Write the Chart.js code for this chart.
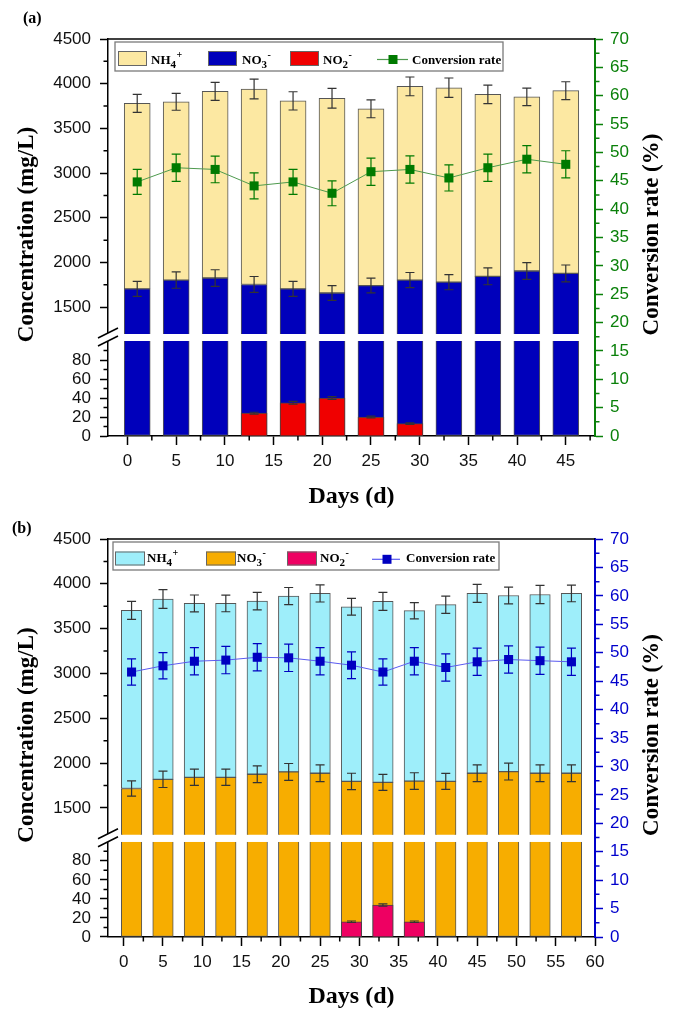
<!DOCTYPE html>
<html>
<head>
<meta charset="utf-8">
<script src="https://cdn.jsdelivr.net/npm/chart.js@4.4.1/dist/chart.umd.min.js"></script>
<style>
  html, body { margin: 0; padding: 0; background: #fff; }
  #wrap { position: relative; width: 675px; height: 1013px; overflow: hidden; }
  canvas { position: absolute; left: 0; }
  #chartA { top: 0; }
  #chartB { top: 516px; }
</style>
</head>
<body>
<div id="wrap">
  <canvas id="chartA" width="675" height="516"></canvas>
  <canvas id="chartB" width="675" height="497"></canvas>
</div>
<script>
// ---------- Panel (a) ----------
const daysA = [1, 5, 9, 13, 17, 21, 25, 29, 33, 37, 41, 45];
const totalA = [3780, 3797, 3914, 3941, 3808, 3837, 3719, 3970, 3955, 3881, 3852, 3922];   // NH4+ + NO3-
const totalErrA = [100, 94, 100, 111, 102, 111, 100, 105, 109, 104, 98, 100];
const nitrateA = [1705, 1803, 1826, 1754, 1705, 1659, 1742, 1803, 1780, 1845, 1905, 1878];
const nitrateErrA = [83, 91, 93, 89, 83, 83, 82, 85, 85, 94, 94, 94];
const nitriteA = [0, 0, 0, 24, 35, 40, 20, 13, 0, 0, 0, 0];
const nitriteErrA = [0, 0, 0, 1, 1.5, 1.5, 1, 0.8, 0, 0, 0, 0];
const rateA = [44.8, 47.3, 47.0, 44.1, 44.8, 42.8, 46.6, 47.0, 45.5, 47.3, 48.8, 47.9];
const rateErrA = [2.2, 2.4, 2.35, 2.3, 2.2, 2.2, 2.4, 2.4, 2.3, 2.4, 2.4, 2.4];

// ---------- Panel (b) ----------
const daysB = [1, 5, 9, 13, 17, 21, 25, 29, 33, 37, 41, 45, 49, 53, 57];
const totalB = [3703, 3830, 3781, 3781, 3807, 3863, 3893, 3744, 3804, 3700, 3767, 3893, 3870, 3881, 3893];
const totalErrB = [100, 105, 94, 93, 98, 96, 96, 93, 100, 91, 96, 100, 94, 102, 93];
const nitrateB = [1716, 1818, 1841, 1841, 1875, 1901, 1886, 1795, 1784, 1799, 1795, 1886, 1905, 1886, 1886];
const nitrateErrB = [85, 91, 91, 91, 94, 94, 94, 91, 89, 93, 89, 94, 94, 94, 94];
const nitriteB = [0, 0, 0, 0, 0, 0, 0, 16, 33.5, 16, 0, 0, 0, 0, 0];
const nitriteErrB = [0, 0, 0, 0, 0, 0, 0, 0.8, 1.2, 0.8, 0, 0, 0, 0, 0];
const rateB = [46.6, 47.7, 48.5, 48.7, 49.2, 49.1, 48.5, 47.8, 46.6, 48.5, 47.4, 48.4, 48.8, 48.6, 48.4];
const rateErrB = [2.3, 2.3, 2.4, 2.4, 2.4, 2.4, 2.4, 2.35, 2.3, 2.4, 2.4, 2.4, 2.4, 2.4, 2.4];

// ---------- Tick values ----------
const upperTicks = [1500, 2000, 2500, 3000, 3500, 4000, 4500];
const lowerTicks = [0, 20, 40, 60, 80];
const rateTicks = [0, 5, 10, 15, 20, 25, 30, 35, 40, 45, 50, 55, 60, 65, 70];
const dayTicksA = [0, 5, 10, 15, 20, 25, 30, 35, 40, 45];
const dayTicksB = [0, 5, 10, 15, 20, 25, 30, 35, 40, 45, 50, 55, 60];

const UPPER_MIN = 1200, UPPER_MAX = 4500, LOWER_MAX = 100, RATE_MAX = 70;

const serif = "'Liberation Serif', 'Times New Roman', Times, serif";
const sans = "'Liberation Sans', Arial, Helvetica, sans-serif";
const tickFont = { family: sans, size: 17 };

function setTicks(values) {
  return scale => { scale.ticks = values.map(v => ({ value: v })); };
}

function minorValues(major, max) {
  const out = [];
  for (let i = 0; i < major.length - 1; i++) out.push((major[i] + major[i + 1]) / 2);
  const step = major[major.length - 1] - major[major.length - 2];
  const extra = major[major.length - 1] + step / 2;
  if (extra <= max) out.push(extra);
  return out;
}

// Error bars drawn right after their own dataset
const errorBarPlugin = {
  id: 'errorBars',
  afterDatasetDraw(chart, args) {
    const ds = chart.data.datasets[args.index];
    if (!ds.errTop || !ds.errSize) return;
    const yScale = chart.scales[ds.yAxisID];
    const ctx = chart.ctx;
    ctx.save();
    ctx.strokeStyle = ds.errColor;
    ctx.lineWidth = 1.2;
    args.meta.data.forEach((el, i) => {
      const e = ds.errSize[i];
      if (!e) return;
      const x = el.x;
      const hi = yScale.getPixelForValue(ds.errTop[i] + e);
      const lo = yScale.getPixelForValue(ds.errTop[i] - e);
      const c = 4.5;
      ctx.beginPath();
      ctx.moveTo(x, hi); ctx.lineTo(x, lo);
      ctx.moveTo(x - c, hi); ctx.lineTo(x + c, hi);
      ctx.moveTo(x - c, lo); ctx.lineTo(x + c, lo);
      ctx.stroke();
    });
    ctx.restore();
  }
};

function drawMinor(ctx, scale, values, side, color) {
  ctx.strokeStyle = color;
  ctx.lineWidth = 1.5;
  const len = 4.5;
  ctx.beginPath();
  values.forEach(v => {
    const p = scale.getPixelForValue(v);
    if (side === 'left') { ctx.moveTo(scale.right, p); ctx.lineTo(scale.right - len, p); }
    else if (side === 'right') { ctx.moveTo(scale.left, p); ctx.lineTo(scale.left + len, p); }
    else { ctx.moveTo(p, scale.top); ctx.lineTo(p, scale.top + len); }
  });
  ctx.stroke();
}

function drawRich(ctx, x, base, parts, color) {
  ctx.fillStyle = color;
  ctx.textAlign = 'left';
  ctx.textBaseline = 'alphabetic';
  for (const part of parts) {
    const size = part.sub ? 11 : part.sup ? 10 : 13;
    const dy = part.sub ? 4 : part.sup ? -6 : 0;
    ctx.font = `bold ${size}px ${serif}`;
    ctx.fillText(part.t, x, base + dy);
    x += ctx.measureText(part.t).width + (part.sup || part.sub ? 0.5 : 0);
  }
}

// Frame, minor ticks, axis break, side titles, panel tag and legend
const decorPlugin = {
  id: 'panelDecor',
  afterDraw(chart, args, o) {
    const { ctx, chartArea: a, scales } = chart;
    ctx.save();

    // top frame line
    ctx.strokeStyle = '#000';
    ctx.lineWidth = 1.5;
    ctx.beginPath(); ctx.moveTo(a.left, a.top); ctx.lineTo(a.right, a.top); ctx.stroke();

    // minor ticks
    drawMinor(ctx, scales.yTop, minorValues(upperTicks, UPPER_MAX), 'left', '#000');
    drawMinor(ctx, scales.yBot, minorValues(lowerTicks, LOWER_MAX), 'left', '#000');
    drawMinor(ctx, scales.y2, minorValues(rateTicks, RATE_MAX), 'right', o.axisColor);
    drawMinor(ctx, scales.x, minorValues(o.dayTicks, o.xMax), 'bottom', '#000');

    // axis break "//"
    const gap = scales.yGap;
    const ax = a.left;
    const t = gap.top, b = gap.bottom;
    ctx.fillStyle = '#fff';
    ctx.beginPath();
    ctx.moveTo(ax - 10, t + 4); ctx.lineTo(ax + 10, t - 6);
    ctx.lineTo(ax + 10, b - 5); ctx.lineTo(ax - 10, b + 5);
    ctx.closePath(); ctx.fill();
    ctx.strokeStyle = '#000';
    ctx.lineWidth = 1.5;
    ctx.beginPath();
    ctx.moveTo(ax - 10, t + 4); ctx.lineTo(ax + 10, t - 6);
    ctx.moveTo(ax - 10, b + 5); ctx.lineTo(ax + 10, b - 5);
    ctx.stroke();

    // vertical titles
    const midY = (a.top + a.bottom) / 2 - 3;
    ctx.fillStyle = '#000';
    ctx.font = `bold 23px ${serif}`;
    ctx.textAlign = 'center';
    ctx.textBaseline = 'middle';
    ctx.save(); ctx.translate(27, midY); ctx.rotate(-Math.PI / 2);
    ctx.fillText('Concentration (mg/L)', 0, 0); ctx.restore();
    ctx.save(); ctx.translate(652, midY); ctx.rotate(-Math.PI / 2);
    ctx.fillText('Conversion rate (%)', 0, 0); ctx.restore();

    // panel tag
    ctx.font = `bold 16px ${serif}`;
    ctx.textAlign = 'left';
    ctx.fillText(o.tag, o.tagX, o.tagY);

    // legend
    const L = o.legend;
    const ds = chart.data.datasets;
    ctx.fillStyle = '#fff';
    ctx.fillRect(L.box[0], L.box[1], L.box[2], L.box[3]);
    ctx.strokeStyle = '#7a7a7a';
    ctx.lineWidth = 1.3;
    ctx.strokeRect(L.box[0], L.box[1], L.box[2], L.box[3]);

    const swatchItems = [
      { ds: ds[4], parts: [{ t: 'NH' }, { t: '4', sub: true }, { t: '+', sup: true }] },
      { ds: ds[2], parts: [{ t: 'NO' }, { t: '3', sub: true }, { t: '-', sup: true }] },
      { ds: ds[1], parts: [{ t: 'NO' }, { t: '2', sub: true }, { t: '-', sup: true }] }
    ];
    swatchItems.forEach((it, i) => {
      ctx.fillStyle = it.ds.backgroundColor;
      ctx.fillRect(L.sw[i], L.swTop, L.swW, L.swH);
      ctx.strokeStyle = '#666';
      ctx.lineWidth = 1;
      ctx.strokeRect(L.sw[i] + 0.5, L.swTop + 0.5, L.swW - 1, L.swH - 1);
      drawRich(ctx, L.tx[i], L.base, it.parts, '#000');
    });
    const rateDs = ds[0];
    ctx.strokeStyle = rateDs.borderColor;
    ctx.lineWidth = 1.2;
    ctx.beginPath(); ctx.moveTo(L.line[0], L.lineY); ctx.lineTo(L.line[1], L.lineY); ctx.stroke();
    ctx.fillStyle = rateDs.pointBackgroundColor;
    ctx.fillRect(L.mark - 4.5, L.lineY - 4.5, 9, 9);
    drawRich(ctx, L.rateTx, L.base, [{ t: 'Conversion rate' }], '#000');

    ctx.restore();
  }
};

function makeChart(canvasId, p) {
  const c = p.colors;
  const barCommon = {
    type: 'bar', grouped: false, barPercentage: 1, categoryPercentage: 1,
    maxBarThickness: p.barWidth, borderColor: '#555', borderWidth: 1
  };
  const datasets = [
    {
      type: 'line', label: 'Conversion rate', yAxisID: 'y2', data: p.rate, order: 0,
      borderColor: c.rateLine, borderWidth: 1, pointStyle: 'rect', pointRadius: 6.4,
      pointBackgroundColor: c.rate, pointBorderColor: c.rate, pointBorderWidth: 0,
      fill: false, tension: 0,
      errTop: p.rate, errSize: p.rateErr, errColor: c.rate
    },
    Object.assign({}, barCommon, {
      label: 'NO\u2082\u207B', yAxisID: 'yBot', data: p.nitrite, order: 1,
      backgroundColor: c.no2, borderColor: '#444',
      errTop: p.nitrite, errSize: p.nitriteErr, errColor: '#333'
    }),
    Object.assign({}, barCommon, {
      label: 'NO\u2083\u207B', yAxisID: 'yTop', data: p.nitrate, order: 2,
      backgroundColor: c.no3, borderSkipped: 'bottom',
      errTop: p.nitrate, errSize: p.nitrateErr, errColor: '#333'
    }),
    Object.assign({}, barCommon, {
      label: 'NO\u2083\u207B low', yAxisID: 'yBot',
      data: p.nitrate.map(v => [0, Math.min(v, LOWER_MAX)]), order: 3,
      backgroundColor: c.no3, borderSkipped: 'top'
    }),
    Object.assign({}, barCommon, {
      label: 'NH\u2084\u207A', yAxisID: 'yTop',
      data: p.nitrate.map((v, i) => [v, p.total[i]]), order: 4,
      backgroundColor: c.nh4, borderSkipped: false,
      errTop: p.total, errSize: p.totalErr, errColor: '#333'
    })
  ];

  const leftAxis = (extra) => Object.assign({
    type: 'linear', position: 'left', stack: 'conc', offset: false,
    afterFit: s => { s.width = 108; },
    grid: { drawOnChartArea: false, drawTicks: true, tickLength: 8, tickColor: '#000', tickWidth: 1.5 },
    border: { color: '#000', width: 1.5 },
    ticks: { font: tickFont, color: '#111', padding: 9, autoSkip: false, callback: v => String(v) }
  }, extra);

  return new Chart(document.getElementById(canvasId), {
    type: 'bar',
    data: { labels: p.days, datasets },
    plugins: [errorBarPlugin, decorPlugin],
    options: {
      responsive: false,
      devicePixelRatio: 1,
      animation: false,
      events: [],
      layout: { padding: { top: p.padTop, left: 0, right: 0, bottom: 0 } },
      plugins: {
        legend: { display: false },
        tooltip: { enabled: false },
        panelDecor: {
          tag: p.tag, tagX: p.tagX, tagY: p.tagY, axisColor: c.axis,
          dayTicks: p.dayTicks, xMax: p.xMax, legend: p.legend
        }
      },
      scales: {
        x: {
          type: 'linear', position: 'bottom', min: -2, max: p.xMax, offset: false,
          afterBuildTicks: setTicks(p.dayTicks),
          afterFit: s => { s.height = p.xHeight; },
          grid: { offset: false, drawOnChartArea: false, drawTicks: true, tickLength: 9, tickColor: '#000', tickWidth: 1.5 },
          border: { color: '#000', width: 1.5 },
          ticks: { font: tickFont, color: '#111', padding: 6, maxRotation: 0, autoSkip: false, callback: v => String(v) },
          title: {
            display: true, text: 'Days (d)', color: '#000',
            font: { family: serif, size: 24, weight: 'bold' },
            padding: { top: 0, bottom: p.xTitlePad }
          }
        },
        y: { display: false },
        yTop: leftAxis({
          stackWeight: 295, weight: 3, min: UPPER_MIN, max: UPPER_MAX,
          afterBuildTicks: setTicks(upperTicks)
        }),
        yGap: {
          type: 'linear', position: 'left', stack: 'conc', stackWeight: 7, weight: 2,
          afterFit: s => { s.width = 108; },
          grid: { display: false }, ticks: { display: false }, border: { display: false }
        },
        yBot: leftAxis({
          stackWeight: 95, weight: 1, min: 0, max: LOWER_MAX,
          afterBuildTicks: setTicks(lowerTicks)
        }),
        y2: {
          type: 'linear', position: 'right', min: 0, max: RATE_MAX,
          afterBuildTicks: setTicks(rateTicks),
          afterFit: s => { s.width = 80; },
          grid: { drawOnChartArea: false, drawTicks: true, tickLength: 8, tickColor: c.axis, tickWidth: 1.5 },
          border: { color: c.axis, width: 2 },
          ticks: { font: tickFont, color: c.axis, padding: 7, autoSkip: false, callback: v => String(v) }
        }
      }
    }
  });
}

makeChart('chartA', {
  tag: '(a)', tagX: 23, tagY: 19,
  days: daysA, total: totalA, totalErr: totalErrA, nitrate: nitrateA, nitrateErr: nitrateErrA,
  nitrite: nitriteA, nitriteErr: nitriteErrA, rate: rateA, rateErr: rateErrA,
  dayTicks: dayTicksA, xMax: 48, padTop: 39, xHeight: 80, xTitlePad: 5, barWidth: 26,
  colors: { nh4: '#FCE8A2', no3: '#0000BB', no2: '#F00000', rate: '#007A00', rateLine: '#4E9A4E', axis: '#0A800A' },
  legend: {
    box: [115, 42, 388, 29], swTop: 51, swH: 15, swW: 29, base: 64,
    sw: [118, 208, 290], tx: [151, 242, 323],
    line: [377, 408], lineY: 59.5, mark: 393, rateTx: 412
  }
});

makeChart('chartB', {
  tag: '(b)', tagX: 12, tagY: 13,
  days: daysB, total: totalB, totalErr: totalErrB, nitrate: nitrateB, nitrateErr: nitrateErrB,
  nitrite: nitriteB, nitriteErr: nitriteErrB, rate: rateB, rateErr: rateErrB,
  dayTicks: dayTicksB, xMax: 60, padTop: 23, xHeight: 76, xTitlePad: 2, barWidth: 20.5,
  colors: { nh4: '#9EEEFA', no3: '#F7AD00', no2: '#EE0062', rate: '#0000C0', rateLine: '#5A5AF0', axis: '#0000CC' },
  legend: {
    box: [113, 26, 386, 28], swTop: 35.5, swH: 14, swW: 30, base: 46,
    sw: [115, 206, 287], tx: [147, 237, 320],
    line: [372, 400], lineY: 43.3, mark: 387, rateTx: 406
  }
});
</script>
</body>
</html>
